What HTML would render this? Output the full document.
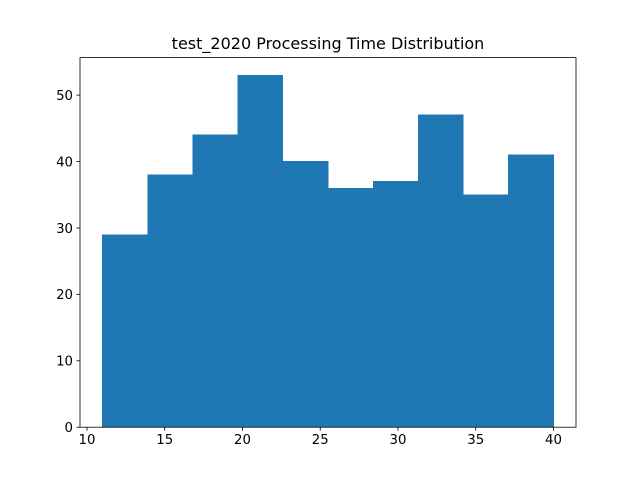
<!DOCTYPE html>
<html><head><meta charset="utf-8"><style>
body{margin:0;background:#fff;}
svg{display:block;font-family:"DejaVu Sans","Liberation Sans",sans-serif;}
</style></head><body>
<svg id="chart" width="640" height="480" xmlns="http://www.w3.org/2000/svg"></svg>
<script>
const binStart = 11;
const binEnd = 40;
const counts = [29, 38, 44, 53, 40, 36, 37, 47, 35, 41];
const xTicks = [10, 15, 20, 25, 30, 35, 40];
const yTicks = [0, 10, 20, 30, 40, 50];
const titleText = "test_2020 Processing Time Distribution";

const svg = document.getElementById('chart');
const NS = 'http://www.w3.org/2000/svg';
const L = 80, R = 576, T = 57.6, B = 427.2;
const span = binEnd - binStart;
const xMin = binStart - span * 0.05, xMax = binEnd + span * 0.05;
const yMax = Math.max(...counts) * 1.05;
const xs = v => L + (v - xMin) / (xMax - xMin) * (R - L);
const ys = v => B - v / yMax * (B - T);
function mk(tag, attrs, parent) {
  const e = document.createElementNS(NS, tag);
  for (const k in attrs) e.setAttribute(k, attrs[k]);
  (parent || svg).appendChild(e);
  return e;
}
const bw = span / counts.length;
const barsG = mk('g', {'shape-rendering': 'crispEdges'});


counts.forEach((c, i) => {
  const x0 = xs(binStart + i * bw), x1 = xs(binStart + (i + 1) * bw);
  const r = mk('rect', {x: x0, y: ys(c), width: x1 - x0, height: B - ys(c), fill: '#1f77b4', stroke: '#1f77b4', 'stroke-width': 0.6}, barsG);
  
  
});
const frame = mk('rect', {x: L, y: T, width: R - L, height: B - T, fill: 'none', stroke: '#000', 'stroke-width': 0.8});


xTicks.forEach(t => {
  const x = xs(t);
  mk('line', {x1: x, x2: x, y1: B, y2: B + 3.5, stroke: '#000', 'stroke-width': 0.8});
  const tx = mk('text', {x: x, y: B + 17, 'text-anchor': 'middle', 'font-size': 13.3, fill: '#000'});
  tx.textContent = t;
  
  
});
yTicks.forEach(t => {
  const y = ys(t);
  mk('line', {x1: L - 3.5, x2: L, y1: y, y2: y, stroke: '#000', 'stroke-width': 0.8});
  const tx = mk('text', {x: L - 7, y: y + 4.8, 'text-anchor': 'end', 'font-size': 13.3, fill: '#000'});
  tx.textContent = t;
  
  
});
const title = mk('text', {x: (L + R) / 2, y: 49, 'text-anchor': 'middle', 'font-size': 16, fill: '#000'});
title.textContent = titleText;


</script>
</body></html>
